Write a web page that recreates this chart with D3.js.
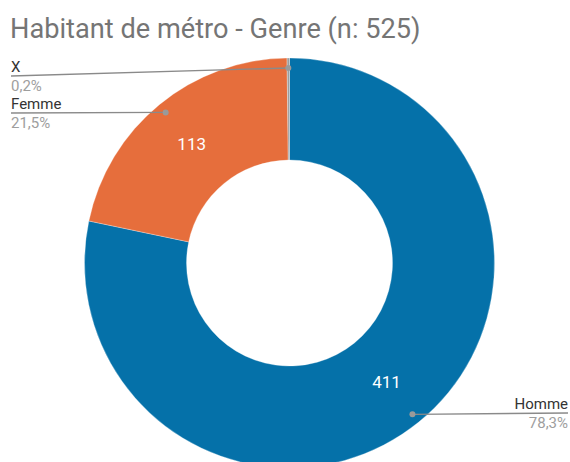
<!DOCTYPE html>
<html>
<head>
<meta charset="utf-8">
<script src="https://cdn.jsdelivr.net/npm/d3@7"></script>
<style>
  body { margin: 0; background: #fff; }
  text { font-family: Roboto, "Noto Sans", sans-serif; }
</style>
</head>
<body>
<div id="chart"></div>
<script>
// data
var categories = ["Homme", "Femme", "X"];
var counts = [411, 113, 1];
var percentLabels = ["78,3%", "21,5%", "0,2%"];
var colors = ["#0571a9", "#e66e3c", "#9e9e9e"];

var w = 570, h = 462;
var cx = 289.5, cy = 263;
var outerR = 205, innerR = 103;

var svg = d3.select("#chart").append("svg")
    .attr("width", w)
    .attr("height", h);

svg.append("text")
    .attr("x", 10)
    .attr("y", 38)
    .attr("fill", "#757575")
    .style("font-size", "27.2px")
    .text("Habitant de métro - Genre (n: 525)");

var pie = d3.pie().sort(null).value(function (d) { return d; });
var arcs = pie(counts);

var arc = d3.arc().innerRadius(innerR).outerRadius(outerR);
var dotArc = d3.arc().innerRadius(195).outerRadius(195);

var g = svg.append("g").attr("transform", "translate(" + cx + "," + cy + ")");

g.selectAll("path")
    .data(arcs)
    .enter()
    .append("path")
    .attr("d", arc)
    .attr("fill", function (d, i) { return colors[i]; })
    .attr("stroke", "#fff")
    .attr("stroke-width", 0.3);

// value labels inside the slices (not for X, too small)
g.selectAll("text.val")
    .data(arcs.filter(function (d) { return d.value > 10; }))
    .enter()
    .append("text")
    .attr("class", "val")
    .attr("transform", function (d) { return "translate(" + arc.centroid(d) + ")"; })
    .attr("text-anchor", "middle")
    .attr("dy", "0.35em")
    .attr("fill", "#fff")
    .style("font-size", "17px")
    .text(function (d) { return d.value; });

// legend labels with leader lines
var labelPos = [
  { x: 568, y: 413, anchor: "end", lineEnd: 568 },
  { x: 11, y: 113, anchor: "start", lineEnd: 11 },
  { x: 11, y: 76, anchor: "start", lineEnd: 11 }
];

arcs.forEach(function (d, i) {
  var p = dotArc.centroid(d);
  var px = p[0] + cx, py = p[1] + cy;
  var lp = labelPos[i];
  svg.append("line")
      .attr("x1", lp.lineEnd).attr("y1", lp.y)
      .attr("x2", px).attr("y2", py)
      .attr("stroke", "#8a8a8a")
      .attr("stroke-width", 1.3);
  svg.append("circle")
      .attr("cx", px).attr("cy", py).attr("r", 3)
      .attr("fill", "#9a9a9a");
  svg.append("text")
      .attr("x", lp.x).attr("y", lp.y - 4.5)
      .attr("text-anchor", lp.anchor)
      .attr("fill", "#333")
      .style("font-size", "15px")
      .text(categories[i]);
  svg.append("text")
      .attr("x", lp.x).attr("y", lp.y + 15)
      .attr("text-anchor", lp.anchor)
      .attr("fill", "#9e9e9e")
      .style("font-size", "15px")
      .text(percentLabels[i]);
});
</script>
</body>
</html>
